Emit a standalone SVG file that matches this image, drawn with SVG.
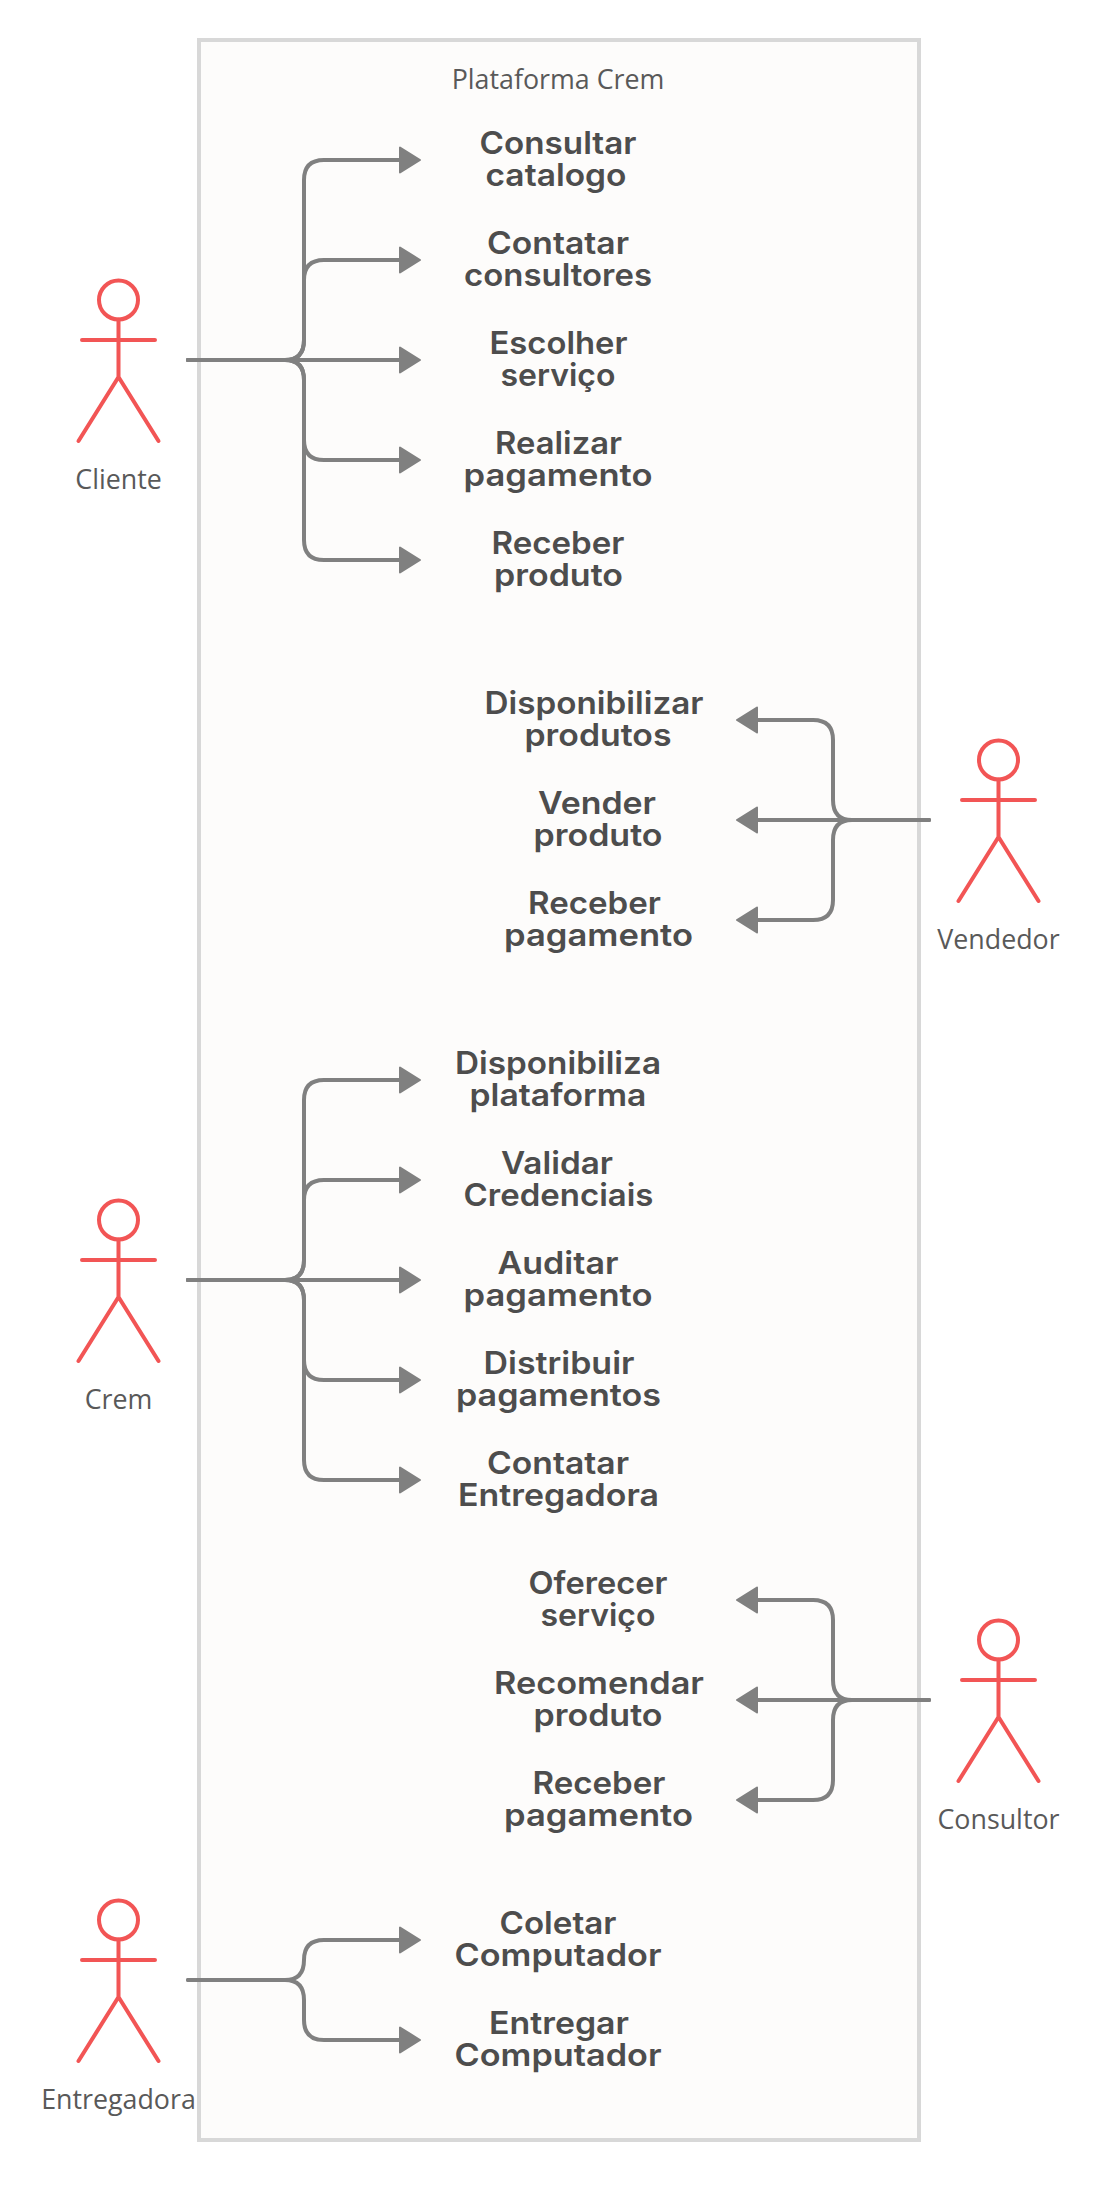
<svg xmlns="http://www.w3.org/2000/svg" width="1100" height="2193" viewBox="0 0 1100 2193">
<style>
.uc{font-family:"Inter","Liberation Sans",sans-serif;font-weight:600;font-size:31.5px;fill:#4d4d4d;text-anchor:middle}
.lb{font-family:"Open Sans","Noto Sans",sans-serif;font-size:26.8px;fill:#595959;text-anchor:middle}
.c{fill:none;stroke:#808080;stroke-width:4;stroke-linecap:round;marker-end:url(#arrow)}
.a{fill:none;stroke:#f25555;stroke-width:4;stroke-linecap:round;stroke-linejoin:round}
</style>
<defs>
<marker id="arrow" markerUnits="userSpaceOnUse" markerWidth="24" markerHeight="30" viewBox="0 0 24 30" refX="4" refY="15" orient="auto">
<path d="M2 2.5V27.5L22 15Z" fill="#808080" stroke="#808080" stroke-width="2" stroke-linejoin="round"/>
</marker>
<g id="actor">
<ellipse cx="0" cy="-60" rx="19.5" ry="19.5"/>
<path d="M0-40.5V17M-36.5-20H36.5M-40 81L0 17L40 81"/>
</g>
</defs>
<g id="frame"><rect x="199" y="40" width="720" height="2100" fill="#fdfcfb" stroke="#d8d8d8" stroke-width="4"/>
<text class="lb" x="558" y="89">Plataforma Crem</text></g>
<g id="connectors">
<path class="c" d="M188 360H285Q304 360 304 340V180Q304 160 324 160H402"/>
<path class="c" d="M188 360H285Q304 360 304 340V280Q304 260 324 260H402"/>
<path class="c" d="M188 360H402"/>
<path class="c" d="M188 360H285Q304 360 304 380V440Q304 460 324 460H402"/>
<path class="c" d="M188 360H285Q304 360 304 380V540Q304 560 324 560H402"/>
<path class="c" d="M929 820H852Q833 820 833 800V740Q833 720 813 720H755"/>
<path class="c" d="M929 820H755"/>
<path class="c" d="M929 820H852Q833 820 833 840V900Q833 920 813 920H755"/>
<path class="c" d="M188 1280H285Q304 1280 304 1260V1100Q304 1080 324 1080H402"/>
<path class="c" d="M188 1280H285Q304 1280 304 1260V1200Q304 1180 324 1180H402"/>
<path class="c" d="M188 1280H402"/>
<path class="c" d="M188 1280H285Q304 1280 304 1300V1360Q304 1380 324 1380H402"/>
<path class="c" d="M188 1280H285Q304 1280 304 1300V1460Q304 1480 324 1480H402"/>
<path class="c" d="M929 1700H852Q833 1700 833 1680V1620Q833 1600 813 1600H755"/>
<path class="c" d="M929 1700H755"/>
<path class="c" d="M929 1700H852Q833 1700 833 1720V1780Q833 1800 813 1800H755"/>
<path class="c" d="M188 1980H285Q304 1980 304 1960Q304 1940 324 1940H402"/>
<path class="c" d="M188 1980H285Q304 1980 304 2000V2020Q304 2040 324 2040H402"/>
</g>
<g id="actor-cliente"><use href="#actor" class="a" x="118.5" y="360"/><text class="lb" x="118.5" y="488.5">Cliente</text></g>
<g id="actor-vendedor"><use href="#actor" class="a" x="998.5" y="820"/><text class="lb" x="998.5" y="948.5">Vendedor</text></g>
<g id="actor-crem"><use href="#actor" class="a" x="118.5" y="1280"/><text class="lb" x="118.5" y="1408.5">Crem</text></g>
<g id="actor-consultor"><use href="#actor" class="a" x="998.5" y="1700"/><text class="lb" x="998.5" y="1828.5">Consultor</text></g>
<g id="actor-entregadora"><use href="#actor" class="a" x="118.5" y="1980"/><text class="lb" x="118.5" y="2108.5">Entregadora</text></g>
<g id="uc-1"><text class="uc" x="558" y="154" textLength="157" lengthAdjust="spacingAndGlyphs">Consultar</text><text class="uc" x="556" y="186" textLength="141" lengthAdjust="spacingAndGlyphs">catalogo</text></g>
<g id="uc-2"><text class="uc" x="558" y="254" textLength="142" lengthAdjust="spacingAndGlyphs">Contatar</text><text class="uc" x="558" y="286" textLength="188" lengthAdjust="spacingAndGlyphs">consultores</text></g>
<g id="uc-3"><text class="uc" x="558.5" y="354" textLength="138" lengthAdjust="spacingAndGlyphs">Escolher</text><text class="uc" x="558" y="386" textLength="115" lengthAdjust="spacingAndGlyphs">serviço</text></g>
<g id="uc-4"><text class="uc" x="558.5" y="454" textLength="127" lengthAdjust="spacingAndGlyphs">Realizar</text><text class="uc" x="558" y="486" textLength="189" lengthAdjust="spacingAndGlyphs">pagamento</text></g>
<g id="uc-5"><text class="uc" x="558" y="554" textLength="133" lengthAdjust="spacingAndGlyphs">Receber</text><text class="uc" x="558.5" y="586" textLength="129" lengthAdjust="spacingAndGlyphs">produto</text></g>
<g id="uc-6"><text class="uc" x="594" y="714" textLength="219" lengthAdjust="spacingAndGlyphs">Disponibilizar</text><text class="uc" x="598" y="746" textLength="147" lengthAdjust="spacingAndGlyphs">produtos</text></g>
<g id="uc-7"><text class="uc" x="597" y="814" textLength="118" lengthAdjust="spacingAndGlyphs">Vender</text><text class="uc" x="598" y="846" textLength="129" lengthAdjust="spacingAndGlyphs">produto</text></g>
<g id="uc-8"><text class="uc" x="594.5" y="914" textLength="133" lengthAdjust="spacingAndGlyphs">Receber</text><text class="uc" x="598.5" y="946" textLength="189" lengthAdjust="spacingAndGlyphs">pagamento</text></g>
<g id="uc-9"><text class="uc" x="558" y="1074" textLength="206" lengthAdjust="spacingAndGlyphs">Disponibiliza</text><text class="uc" x="558" y="1106" textLength="177" lengthAdjust="spacingAndGlyphs">plataforma</text></g>
<g id="uc-10"><text class="uc" x="557" y="1174" textLength="112" lengthAdjust="spacingAndGlyphs">Validar</text><text class="uc" x="558.5" y="1206" textLength="190" lengthAdjust="spacingAndGlyphs">Credenciais</text></g>
<g id="uc-11"><text class="uc" x="558" y="1274" textLength="121" lengthAdjust="spacingAndGlyphs">Auditar</text><text class="uc" x="558" y="1306" textLength="189" lengthAdjust="spacingAndGlyphs">pagamento</text></g>
<g id="uc-12"><text class="uc" x="559" y="1374" textLength="151" lengthAdjust="spacingAndGlyphs">Distribuir</text><text class="uc" x="558.5" y="1406" textLength="205" lengthAdjust="spacingAndGlyphs">pagamentos</text></g>
<g id="uc-13"><text class="uc" x="558" y="1474" textLength="142" lengthAdjust="spacingAndGlyphs">Contatar</text><text class="uc" x="558.5" y="1506" textLength="201" lengthAdjust="spacingAndGlyphs">Entregadora</text></g>
<g id="uc-14"><text class="uc" x="598" y="1594" textLength="139" lengthAdjust="spacingAndGlyphs">Oferecer</text><text class="uc" x="598" y="1626" textLength="115" lengthAdjust="spacingAndGlyphs">serviço</text></g>
<g id="uc-15"><text class="uc" x="599" y="1694" textLength="210" lengthAdjust="spacingAndGlyphs">Recomendar</text><text class="uc" x="598" y="1726" textLength="129" lengthAdjust="spacingAndGlyphs">produto</text></g>
<g id="uc-16"><text class="uc" x="599" y="1794" textLength="133" lengthAdjust="spacingAndGlyphs">Receber</text><text class="uc" x="598.5" y="1826" textLength="189" lengthAdjust="spacingAndGlyphs">pagamento</text></g>
<g id="uc-17"><text class="uc" x="558" y="1934" textLength="117" lengthAdjust="spacingAndGlyphs">Coletar</text><text class="uc" x="558" y="1966" textLength="207" lengthAdjust="spacingAndGlyphs">Computador</text></g>
<g id="uc-18"><text class="uc" x="559" y="2034" textLength="140" lengthAdjust="spacingAndGlyphs">Entregar</text><text class="uc" x="558" y="2066" textLength="207" lengthAdjust="spacingAndGlyphs">Computador</text></g>
</svg>
